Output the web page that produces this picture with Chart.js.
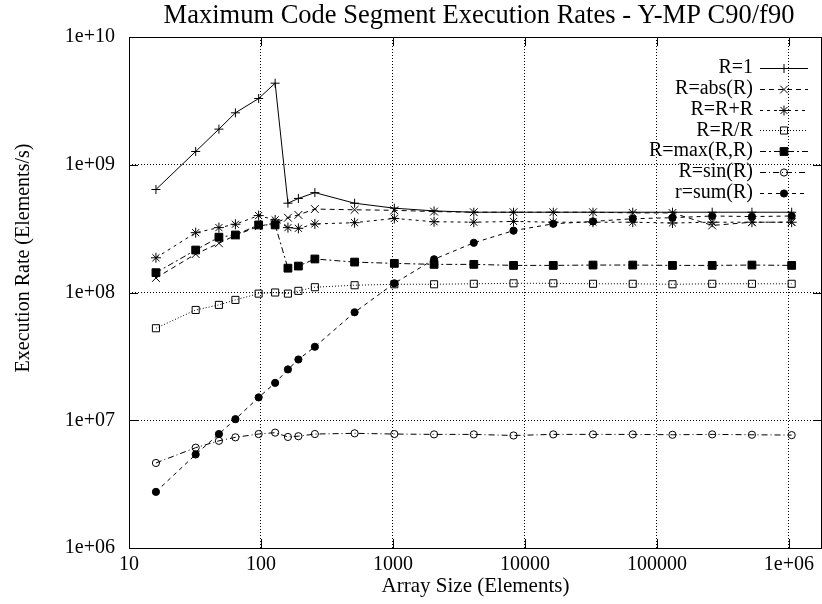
<!DOCTYPE html>
<html>
<head>
<meta charset="utf-8">
<title>Maximum Code Segment Execution Rates - Y-MP C90/f90</title>
<script src="https://cdn.jsdelivr.net/npm/chart.js@4.4.1/dist/chart.umd.min.js"></script>
<style>
  body { margin: 0; background: #fff; }
  #wrap { width: 822px; height: 604px; }
</style>
</head>
<body>
<div id="wrap"><canvas id="rateChart" width="822" height="604"></canvas></div>
<script>
// Data
const sizes = [16, 32, 48, 64, 96, 128, 160, 192, 256, 512, 1024, 2048, 4096, 8192,
               16384, 32768, 65536, 131072, 262144, 524288, 1048576];
const rOne = [6.4e8, 1.27e9, 1.9e9, 2.55e9, 3.3e9, 4.35e9, 5.0e8, 5.45e8, 6.05e8, 5.0e8, 4.57e8,
              4.35e8, 4.25e8, 4.25e8, 4.25e8, 4.25e8, 4.25e8, 4.25e8, 4.25e8, 4.25e8, 4.25e8];
const rAbs = [1.3e8, 2.0e8, 2.43e8, 2.8e8, 3.3e8, 3.5e8, 3.85e8, 4.05e8, 4.5e8, 4.44e8, 4.4e8,
              4.3e8, 4.25e8, 4.25e8, 4.25e8, 4.25e8, 4.2e8, 4.2e8, 3.35e8, 3.55e8, 3.55e8];
const rPlus = [1.87e8, 2.94e8, 3.22e8, 3.42e8, 4.0e8, 3.7e8, 3.22e8, 3.18e8, 3.44e8, 3.52e8, 3.8e8,
               3.58e8, 3.55e8, 3.6e8, 3.55e8, 3.55e8, 3.55e8, 3.5e8, 3.55e8, 3.55e8, 3.55e8];
const rDiv = [5.25e7, 7.3e7, 8.0e7, 8.75e7, 9.8e7, 1.0e8, 9.8e7, 1.03e8, 1.1e8, 1.14e8, 1.16e8,
              1.16e8, 1.17e8, 1.18e8, 1.18e8, 1.17e8, 1.17e8, 1.16e8, 1.17e8, 1.17e8, 1.17e8];
const rMax = [1.43e8, 2.15e8, 2.71e8, 2.82e8, 3.38e8, 3.38e8, 1.55e8, 1.61e8, 1.83e8, 1.73e8, 1.69e8,
              1.66e8, 1.66e8, 1.63e8, 1.63e8, 1.64e8, 1.64e8, 1.63e8, 1.63e8, 1.64e8, 1.63e8];
const rSin = [4.63e6, 6.1e6, 6.9e6, 7.35e6, 7.8e6, 8.0e6, 7.4e6, 7.5e6, 7.8e6, 7.9e6, 7.8e6,
              7.75e6, 7.75e6, 7.6e6, 7.75e6, 7.75e6, 7.75e6, 7.7e6, 7.75e6, 7.7e6, 7.65e6];
const rSum = [2.75e6, 5.4e6, 7.8e6, 1.02e7, 1.51e7, 1.96e7, 2.5e7, 2.99e7, 3.76e7, 7.0e7, 1.18e8,
              1.82e8, 2.45e8, 3.05e8, 3.45e8, 3.6e8, 3.78e8, 3.85e8, 3.97e8, 3.93e8, 3.97e8];

const seriesNames = ['R=1', 'R=abs(R)', 'R=R+R', 'R=R/R', 'R=max(R,R)', 'R=sin(R)', 'r=sum(R)'];

const xTicks = [10, 100, 1000, 10000, 100000, 1000000];
const xTickLabels = ['10', '100', '1000', '10000', '100000', '1e+06'];
const yTicks = [1e6, 1e7, 1e8, 1e9, 1e10];
const yTickLabels = ['1e+06', '1e+07', '1e+08', '1e+09', '1e+10'];

const chartTitle = 'Maximum Code Segment Execution Rates - Y-MP C90/f90';
const yTitle = 'Execution Rate (Elements/s)';

const FONT = "'Liberation Serif', 'DejaVu Serif', serif";

function toPoints(values) {
    return sizes.map((s, i) => ({ x: s, y: values[i] }));
}

function makeSeries(label, values, dash, style, radius, filled) {
    return {
        label: label,
        data: toPoints(values),
        borderColor: '#000',
        borderWidth: 1,
        borderDash: dash,
        pointStyle: style,
        pointRadius: radius,
        pointHoverRadius: radius,
        pointBorderColor: '#000',
        pointBorderWidth: 1,
        pointBackgroundColor: filled ? '#000' : 'rgba(0,0,0,0)',
        fill: false,
        tension: 0
    };
}

// Frame, inward ticks, gnuplot style key, title and y label
const gnuplotBits = {
    id: 'gnuplotBits',
    afterDraw(chart) {
        const ctx = chart.ctx;
        const area = chart.chartArea;
        const xs = chart.scales.x;
        const ys = chart.scales.y;
        ctx.save();
        ctx.strokeStyle = '#000';
        ctx.lineWidth = 1;
        ctx.setLineDash([]);
        ctx.strokeRect(area.left + 0.5, area.top + 0.5, area.right - area.left - 1, area.bottom - area.top);

        // major ticks pointing inwards
        ctx.beginPath();
        xTicks.forEach(v => {
            const px = Math.round(xs.getPixelForValue(v)) + 0.5;
            ctx.moveTo(px, area.bottom); ctx.lineTo(px, area.bottom - 9);
            ctx.moveTo(px, area.top); ctx.lineTo(px, area.top + 9);
        });
        yTicks.forEach(v => {
            const py = Math.round(ys.getPixelForValue(v)) + 0.5;
            ctx.moveTo(area.left, py); ctx.lineTo(area.left + 9, py);
            ctx.moveTo(area.right, py); ctx.lineTo(area.right - 9, py);
        });
        ctx.stroke();

        // key
        ctx.font = '20px ' + FONT;
        ctx.fillStyle = '#000';
        ctx.textAlign = 'right';
        ctx.textBaseline = 'middle';
        chart.data.datasets.forEach((ds, i) => {
            const y = 68 + i * 20.8;
            ctx.fillText(ds.label, 753, y);
            ctx.beginPath();
            ctx.setLineDash(ds.borderDash);
            ctx.moveTo(760, Math.round(y) + 0.5);
            ctx.lineTo(808, Math.round(y) + 0.5);
            ctx.stroke();
            ctx.setLineDash([]);
            ctx.fillStyle = ds.pointBackgroundColor;
            Chart.helpers.drawPoint(ctx, {
                pointStyle: ds.pointStyle,
                radius: ds.pointRadius,
                borderWidth: 1
            }, 784, Math.round(y) + 0.5);
            ctx.fillStyle = '#000';
        });

        // title, centred over the plot box
        ctx.font = '26.5px ' + FONT;
        ctx.textAlign = 'center';
        ctx.fillText(chartTitle, 479, 16);

        // y axis label
        ctx.font = '20px ' + FONT;
        ctx.translate(24, 258);
        ctx.rotate(-Math.PI / 2);
        ctx.fillText(yTitle, 0, 0);
        ctx.restore();
    }
};

function initializeChart() {
    const ctx = document.getElementById('rateChart').getContext('2d');
    new Chart(ctx, {
        type: 'line',
        data: {
            datasets: [
                makeSeries(seriesNames[0], rOne, [], 'cross', 4.5, false),
                makeSeries(seriesNames[1], rAbs, [5, 4], 'crossRot', 5.5, false),
                makeSeries(seriesNames[2], rPlus, [3, 4], 'star', 5, false),
                makeSeries(seriesNames[3], rDiv, [1, 2], 'rect', 5, false),
                makeSeries(seriesNames[4], rMax, [6, 3, 2, 3], 'rect', 5.5, true),
                makeSeries(seriesNames[5], rSin, [6, 3, 1, 3], 'circle', 3.6, false),
                makeSeries(seriesNames[6], rSum, [4, 4], 'circle', 3.6, true)
            ]
        },
        plugins: [gnuplotBits],
        options: {
            responsive: false,
            animation: false,
            events: [],
            layout: {
                autoPadding: false,
                padding: { left: 0, right: 0, top: 37, bottom: 0 }
            },
            plugins: {
                legend: { display: false },
                tooltip: { enabled: false },
                title: { display: false }
            },
            scales: {
                x: {
                    type: 'logarithmic',
                    bounds: 'data',
                    min: 10,
                    max: 1.78e6,
                    afterBuildTicks: scale => { scale.ticks = xTicks.map(v => ({ value: v })); },
                    afterFit: scale => {
                        scale.height = 56;
                        scale.paddingLeft = 0;
                        scale.paddingRight = 0;
                    },
                    grid: { color: '#000', lineWidth: 1, drawTicks: false },
                    border: { display: false, dash: [1, 2] },
                    ticks: {
                        color: '#000',
                        padding: 5,
                        maxRotation: 0,
                        autoSkip: false,
                        font: { family: FONT, size: 20 },
                        callback: v => xTickLabels[xTicks.indexOf(v)]
                    },
                    title: {
                        display: true,
                        text: 'Array Size (Elements)',
                        color: '#000',
                        font: { family: FONT, size: 21, lineHeight: 1.2 },
                        padding: { top: 0, bottom: 5 }
                    }
                },
                y: {
                    type: 'logarithmic',
                    bounds: 'data',
                    min: 1e6,
                    max: 1e10,
                    afterBuildTicks: scale => { scale.ticks = yTicks.map(v => ({ value: v })); },
                    afterFit: scale => {
                        scale.width = 129;
                        scale.paddingTop = 0;
                        scale.paddingBottom = 0;
                    },
                    grid: { color: '#000', lineWidth: 1, drawTicks: false },
                    border: { display: false, dash: [1, 2] },
                    ticks: {
                        color: '#000',
                        padding: 14,
                        autoSkip: false,
                        font: { family: FONT, size: 20 },
                        callback: v => yTickLabels[yTicks.indexOf(v)]
                    }
                }
            }
        }
    });
}

document.addEventListener('DOMContentLoaded', function() {
    initializeChart();
});
</script>
</body>
</html>
